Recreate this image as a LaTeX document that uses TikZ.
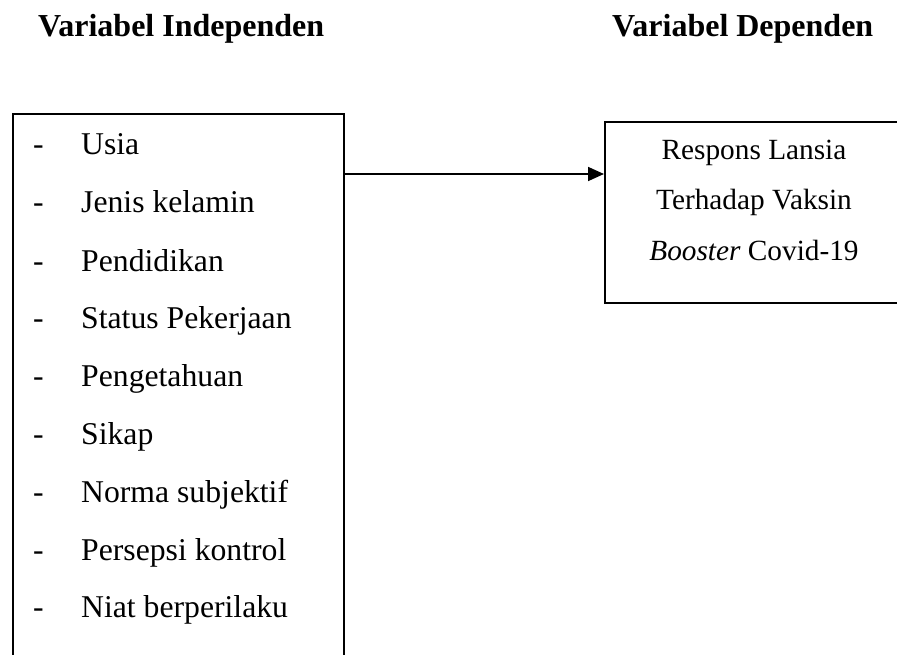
\documentclass[tikz,border=0pt]{standalone}
\usepackage{fontspec}
\setmainfont{Liberation Serif}
\usetikzlibrary{arrows.meta}
\begin{document}
\begin{tikzpicture}[x=1pt,y=-1pt,
  boxline/.style={draw=black,line width=1.8pt},
  itemtxt/.style={anchor=base west,inner sep=0pt,font=\fontsize{31.7}{31.7}\selectfont},
  rtxt/.style={anchor=base,inner sep=0pt,font=\fontsize{29.3}{29.3}\selectfont},
  title/.style={anchor=base west,inner sep=0pt,font=\fontsize{32}{32}\selectfont\bfseries},
  link/.style={line width=1.8pt,-{Triangle[length=16pt,width=14pt]}}]
\useasboundingbox (0,0) rectangle (897,655);
\clip (0,0) rectangle (897,655);
\fill[white] (0,0) rectangle (897,655);
\node[title] (t1) at (38,37) {Variabel Independen};
\node[title] (t2) at (612,37) {Variabel Dependen};
\node[boxline,anchor=north west,inner sep=0pt,minimum width=331pt,minimum height=570pt] (lbox) at (12,113) {};
\node[boxline,anchor=north west,inner sep=0pt,minimum width=320pt,minimum height=181pt] (rbox) at (604,121) {};
\foreach \y/\t [count=\i] in {155/Usia,213/Jenis kelamin,271/Pendidikan,328/Status Pekerjaan,386/Pengetahuan,444/Sikap,502/Norma subjektif,560/Persepsi kontrol,617/Niat berperilaku}{
  \node[itemtxt] (d\i) at (33,\y) {-};
  \node[itemtxt] (i\i) at (81,\y) {\t};
}
\node[rtxt] (r1) at (754,160) {Respons Lansia};
\node[rtxt] (r2) at (754,210) {Terhadap Vaksin};
\node[rtxt] (r3) at (754,260) {\textit{Booster} Covid-19};
\coordinate (a1) at (343,174);
\draw[link] (a1) -- (a1 -| rbox.west);
\end{tikzpicture}
\end{document}
